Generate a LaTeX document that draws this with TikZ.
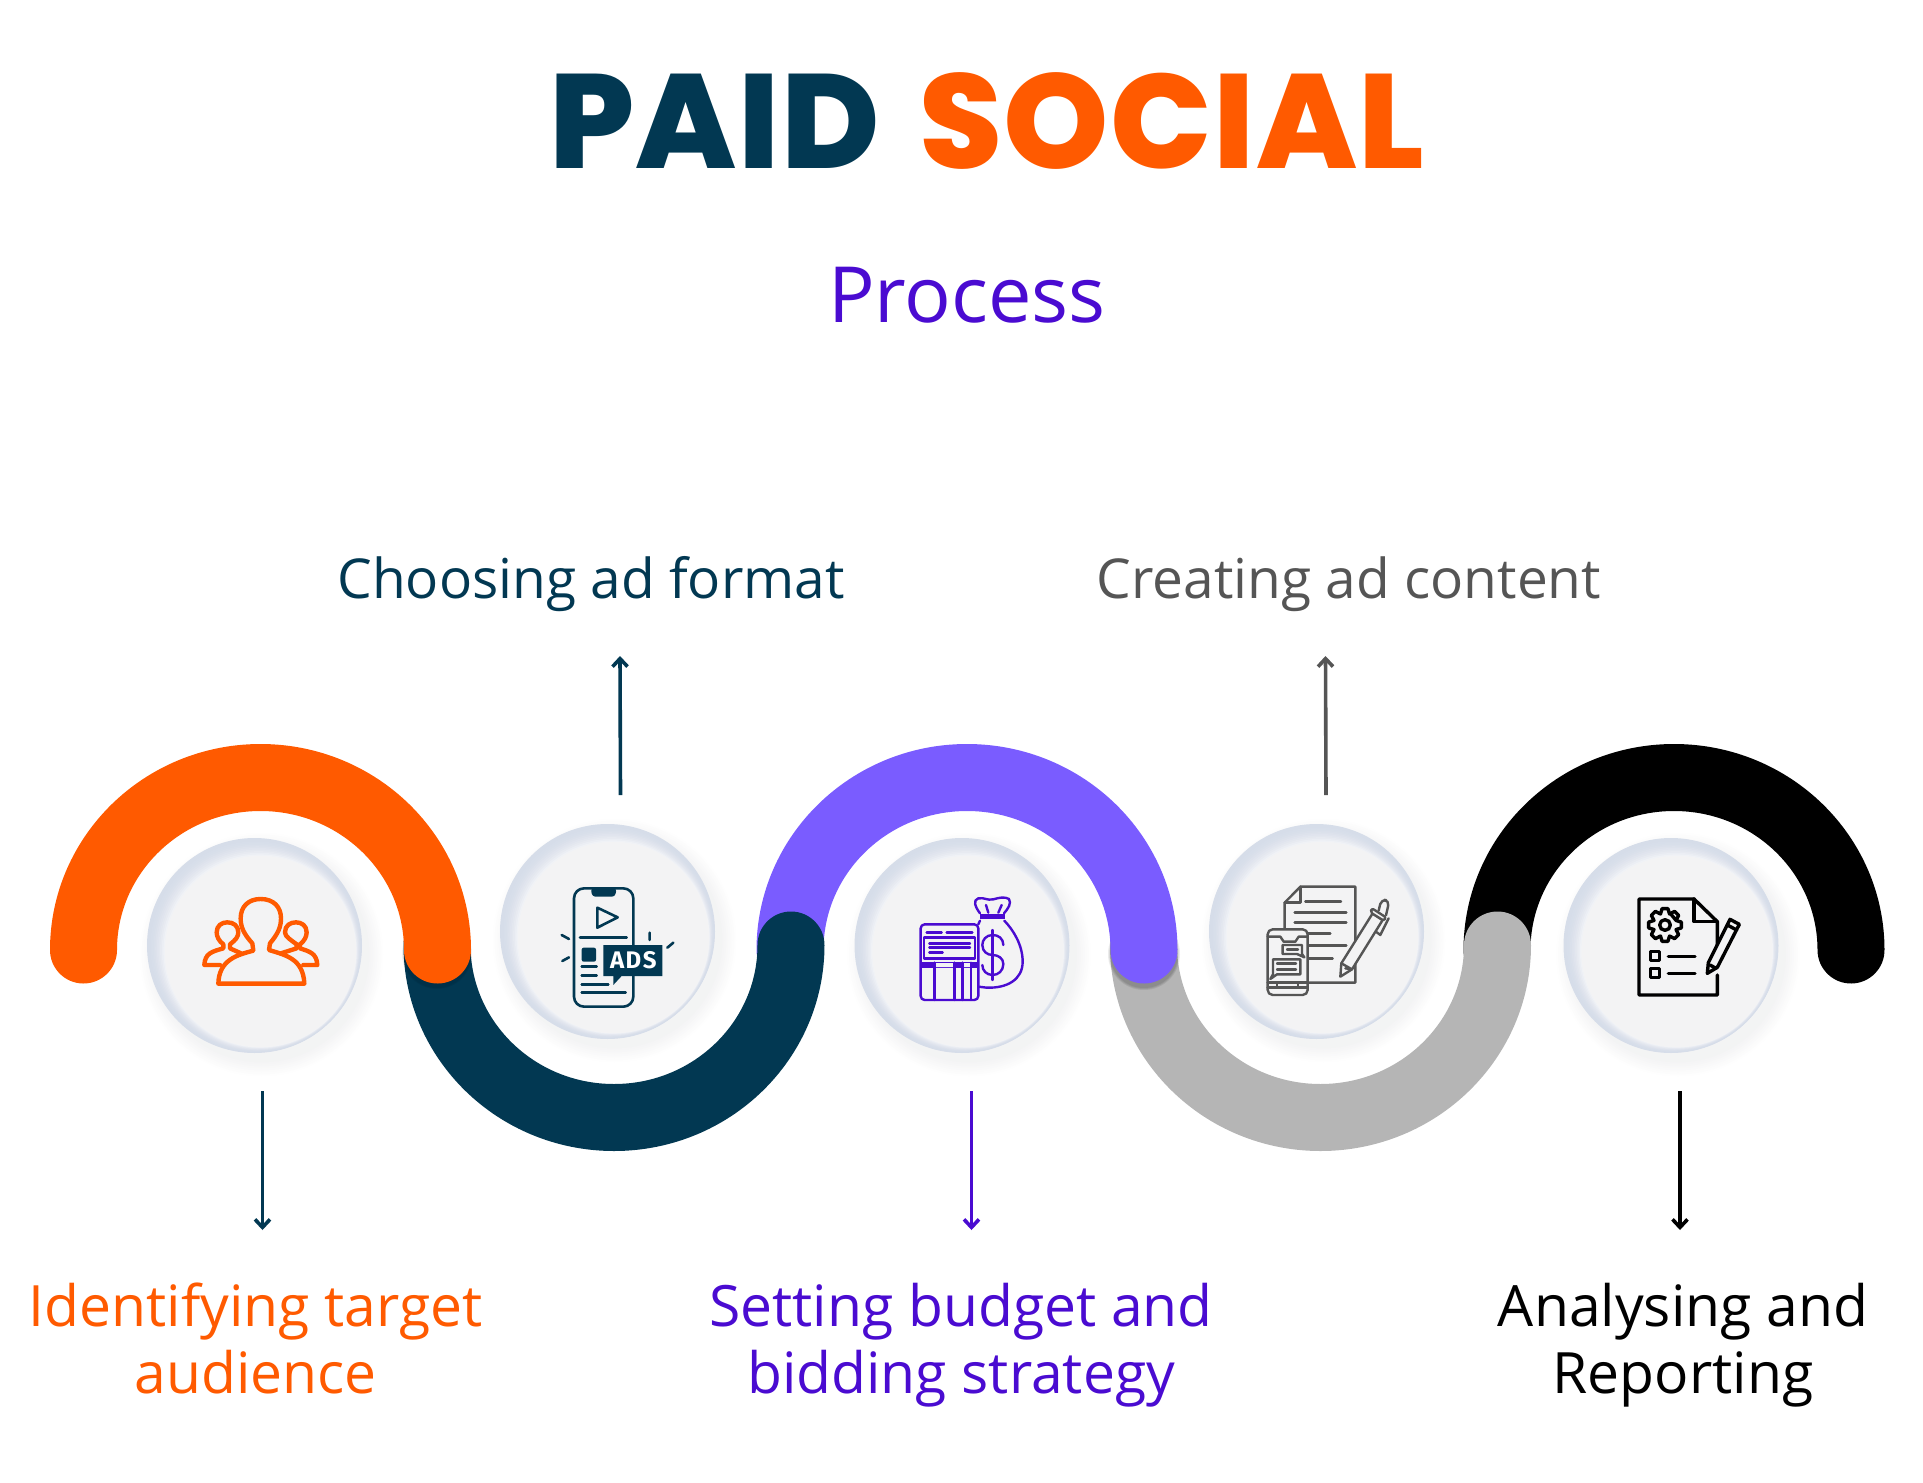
\documentclass[tikz,border=0pt]{standalone}
\usepackage{fontspec}
\setmainfont{Open Sans}
\newfontfamily\titlefont{Poppins}[UprightFont=* ExtraBold,LetterSpace=1]
\newfontfamily\badgefont{Fira Sans}
\usetikzlibrary{arrows.meta,calc}
\definecolor{paidorange}{HTML}{FF5A00}
\definecolor{paidnavy}{HTML}{023852}
\definecolor{wavepurple}{HTML}{7A5CFF}
\definecolor{wavegray}{HTML}{B5B5B5}
\definecolor{textpurple}{HTML}{4A0BD1}
\definecolor{textgray}{HTML}{555555}
\definecolor{bubblerim}{HTML}{D6DDE9}
\definecolor{bubblelight}{HTML}{F7F7F9}
\definecolor{bubbleplate}{HTML}{F3F3F4}
\tikzset{
	wave/.style={line width=67pt,line cap=round},
	plate/.style={circle,fill=bubbleplate,minimum size=191pt,inner sep=0pt},
	pointer/.style={line width=3.6pt,-{Straight Barb[length=8pt,width=15pt,line width=3.6pt]}},
	toplabel/.style={font=\fontsize{55}{67}\selectfont,inner sep=0pt,anchor=base},
	steplabel/.style={font=\fontsize{57}{67}\selectfont,align=center,inner sep=0pt,anchor=base},
	iconscale/.style={x=0.3333pt,y=-0.3333pt},
	iconline/.style={line width=#1,line cap=round,line join=round}
}
% soft disc: shadow, rim, gradient, then the named plate
\def\bubble#1#2{
	\foreach \r in {122,120,...,108}
		\fill[black!40!bubblerim,opacity=0.01] ($#2+(7,9)$) circle (\r);
	\fill[bubblerim] #2 circle (107.5);
	\foreach \k in {1,...,11}
		\fill[bubblerim!\the\numexpr100-\k*\k*8/10\relax!bubblelight] ($#2+(0.55*\k,0.55*\k)$) circle ({107.5-1.09*\k});
	\node[plate] (#1) at ($#2+(6,6)$) {};
}
\begin{document}
\begin{tikzpicture}[x=1pt,y=-1pt]
	\useasboundingbox (0,0) rectangle (1923,1483);
	% waves, last one first so each cap lies on the next wave
	\draw[wave,black] (1497,950) arc (180:360:177 and 172.5);
	\draw[wave,wavegray] (1143.5,945) arc (180:0:177 and 172.5);
	\foreach \r in {36,35,34} \fill[black,opacity=0.08] (1144,954) circle (\r);
	\draw[wave,wavepurple] (790,950) arc (180:360:177 and 172.5);
	\draw[wave,paidnavy] (437,945) arc (180:0:177 and 172.5);
	\foreach \r in {35,34} \fill[black,opacity=0.06] (437,954) circle (\r);
	\draw[wave,paidorange] (83.5,950) arc (180:360:177 and 172.5);

	\bubble{audience}{(254.5,945.5)}
	\bubble{format}{(607.5,931.5)}
	\bubble{budget}{(962,945.5)}
	\bubble{content}{(1316.5,931.5)}
	\bubble{report}{(1671,945.5)}

	% people
	\begin{scope}[shift={(195,885)},iconscale,paidorange,iconline=4.4pt]
		\draw (172,175) .. controls (145,145) and (137,125) .. (137,100) .. controls (137,65) and (160,42) .. (197,42) .. controls (235,42) and (258,65) .. (258,100) .. controls (258,125) and (250,145) .. (225,175) -- (222,195) .. controls (270,210) and (325,220) .. (328,296) -- (70,296) .. controls (72,225) and (125,210) .. (175,197) -- cycle;
		\draw (138,205) -- (105,190) -- (105,178) .. controls (122,165) and (130,155) .. (130,142) .. controls (130,122) and (115,112) .. (97,112) .. controls (80,112) and (65,122) .. (65,142) .. controls (65,155) and (72,168) .. (85,178) -- (85,190) .. controls (50,200) and (30,205) .. (28,240) -- (75,240);
		\draw (258,205) -- (305,190) -- (305,178) .. controls (288,165) and (270,155) .. (270,142) .. controls (270,122) and (285,112) .. (303,112) .. controls (320,112) and (335,122) .. (335,142) .. controls (335,155) and (328,168) .. (315,178) -- (315,190) .. controls (345,200) and (365,205) .. (367,240) -- (325,240);
	\end{scope}

	% phone with ads badge
	\begin{scope}[shift={(555,880)},iconscale,paidnavy,iconline=2.6pt]
		\draw[rounded corners=10pt] (57,25) rectangle (235,380);
		\fill[rounded corners=3pt] (107,25) -- (185,25) -- (180,50) -- (112,50) -- cycle;
		\draw (127,83) -- (127,143) -- (188,112) -- cycle;
		\draw (75,172) -- (215,172);
		\fill[rounded corners=2pt] (80,203) rectangle (123,245);
		\draw (80,260) -- (125,260) (80,287) -- (125,287) (80,313) -- (160,313) (80,338) -- (212,338);
		\fill (145,195) -- (322,195) -- (322,288) -- (200,288) -- (175,315) -- (175,288) -- (145,288) -- cycle;
		\node[text=white,inner sep=0pt,font=\badgefont\bfseries\fontsize{24}{24}\selectfont] (adsbadge) at (235,242) {A\kern1.5pt D\kern1.5pt S};
		\draw (20,165) -- (42,177) (22,243) -- (42,232) (284,158) -- (284,180) (337,203) -- (355,188);
	\end{scope}

	% money bag and ledger
	\begin{scope}[shift={(910,890)},iconscale,textpurple,iconline=2.4pt]
		\draw (210,70) .. controls (195,50) and (188,30) .. (205,25) .. controls (225,22) and (230,32) .. (250,28) .. controls (270,22) and (285,20) .. (297,27) .. controls (305,40) and (295,55) .. (282,70);
		\draw (228,45) -- (235,68) (275,45) -- (265,68);
		\fill (210,72) rectangle (285,88);
		\draw (283,92) .. controls (310,120) and (338,165) .. (338,215) .. controls (338,270) and (290,295) .. (230,293) -- (205,290);
		\draw (210,92) -- (205,103);
		\draw (248,120) -- (248,270);
		\draw (280,165) .. controls (280,145) and (265,135) .. (248,135) .. controls (228,135) and (217,150) .. (217,165) .. controls (217,185) and (232,195) .. (248,195) .. controls (265,195) and (280,205) .. (280,222) .. controls (280,242) and (265,255) .. (248,255) .. controls (230,255) and (217,242) .. (217,225);
		\draw[rounded corners=4pt,fill=bubbleplate] (32,103) rectangle (205,330);
		\draw (50,128) -- (95,128) (110,128) -- (187,128);
		\draw (42,142) rectangle (195,205);
		\draw (58,160) -- (180,160) (58,173) -- (180,173) (58,187) -- (98,187);
		\fill (32,217) rectangle (205,233);
		\fill[bubbleplate] (76,219) rectangle (130,231) (160,219) rectangle (180,231);
		\draw (73,218) -- (73,330) (133,218) -- (133,330) (157,218) -- (157,330) (183,218) -- (183,330);
	\end{scope}

	% paper, pen and phone
	\begin{scope}[shift={(1262,880)},iconscale,textgray,iconline=2.4pt]
		\draw (68,150) -- (68,68) -- (115,20) -- (280,20) -- (280,308) -- (138,308);
		\draw (115,20) -- (115,68) -- (68,68);
		\draw (130,65) -- (237,65) (98,97) -- (253,97) (98,128) -- (253,128) (135,160) -- (205,160) (135,197) -- (253,197) (135,235) -- (212,235);
		\draw[fill=bubbleplate] (235,290) -- (238,250) -- (332,100) -- (362,120) -- (270,268) -- cycle;
		\draw (238,250) -- (270,268) -- (250,265);
		\draw[fill=bubbleplate,rounded corners=2pt] (330,85) -- (372,112) -- (365,122) -- (325,97) -- cycle;
		\draw[fill=bubbleplate,rounded corners=5pt] (350,92) -- (358,58) -- (382,62) -- (372,106);
		\draw (380,115) -- (355,165) -- (342,155);
		\draw[rounded corners=5pt,fill=bubbleplate] (17,148) rectangle (137,345);
		\draw (17,170) -- (55,170) -- (65,185) -- (100,185) -- (110,170) -- (137,170);
		\draw (17,308) -- (137,308) (17,322) -- (137,322) (45,308) -- (45,322) (108,308) -- (108,322);
		\draw (62,195) -- (120,195) -- (120,222) -- (127,232) -- (105,222) -- (62,222) -- cycle;
		\draw (75,208) -- (108,208);
		\draw (33,238) -- (115,238) -- (115,283) -- (45,283) -- (25,297) -- (33,283) -- cycle;
		\draw (45,250) -- (102,250) (45,268) -- (102,268);
	\end{scope}

	% report sheet with gear and pencil
	\begin{scope}[shift={(1630,890)},iconscale,black,iconline=3.4pt]
		\draw (262,255) -- (262,315) -- (27,315) -- (27,27) -- (192,27) -- (262,95) -- (262,205);
		\draw (192,27) -- (192,95) -- (262,95);
		\draw[fill=bubbleplate] (232,250) -- (235,218) -- (300,88) -- (328,103) -- (262,232) -- cycle;
		\draw (292,105) -- (320,120) (240,225) -- (258,235);
		\begin{scope}[shift={(105,105)}]
			\draw (15,-36) \foreach \a in {0,45,...,315} { -- ({\a-22}:36) -- ({\a-10}:50) -- ({\a+10}:50) -- ({\a+22}:36) } -- cycle;
			\draw (0,0) circle (16);
		\end{scope}
		\draw (62,185) rectangle (88,212) (62,235) rectangle (88,262);
		\draw (115,200) -- (195,200) (115,250) -- (195,250);
	\end{scope}

	% pointers
	\coordinate (audienceTail) at (262.5,1091);
	\coordinate (audienceHead) at (262.5,1230);
	\coordinate (formatTail) at (620.5,795);
	\coordinate (formatHead) at (620,656);
	\coordinate (budgetTail) at (971.5,1091);
	\coordinate (budgetHead) at (971.5,1230);
	\coordinate (contentTail) at (1326,795);
	\coordinate (contentHead) at (1325.5,656);
	\coordinate (reportTail) at (1680,1091);
	\coordinate (reportHead) at (1680,1230);
	\draw[pointer,paidnavy] (audienceTail) -- (audienceHead);
	\draw[pointer,paidnavy] (formatTail) -- (formatHead);
	\draw[pointer,textpurple] (budgetTail) -- (budgetHead);
	\draw[pointer,textgray] (contentTail) -- (contentHead);
	\draw[pointer,black] (reportTail) -- (reportHead);

	% texts
	\node[inner sep=0pt,font=\titlefont\fontsize{134}{134}\selectfont,anchor=base] (title) at (987,168) {\textcolor{paidnavy}{PAID}\hspace{13pt} \textcolor{paidorange}{SOCIAL}};
	\node[inner sep=0pt,font=\fontsize{77.5}{79}\selectfont,text=textpurple,anchor=base] (process) at (967,322.5) {Process};
	\node[toplabel,text=paidnavy] (formatText) at (591,598.5) {Choosing ad format};
	\node[toplabel,text=textgray] (contentText) at (1349,598.5) {Creating ad content};
	\node[steplabel,text=paidorange] (audienceText) at (255.5,1393) {Identifying target\\audience};
	\node[steplabel,text=textpurple] (budgetText) at (961,1393) {Setting budget and\\bidding strategy};
	\node[steplabel,text=black] (reportText) at (1683,1393) {Analysing and\\Reporting};
\end{tikzpicture}
\end{document}
